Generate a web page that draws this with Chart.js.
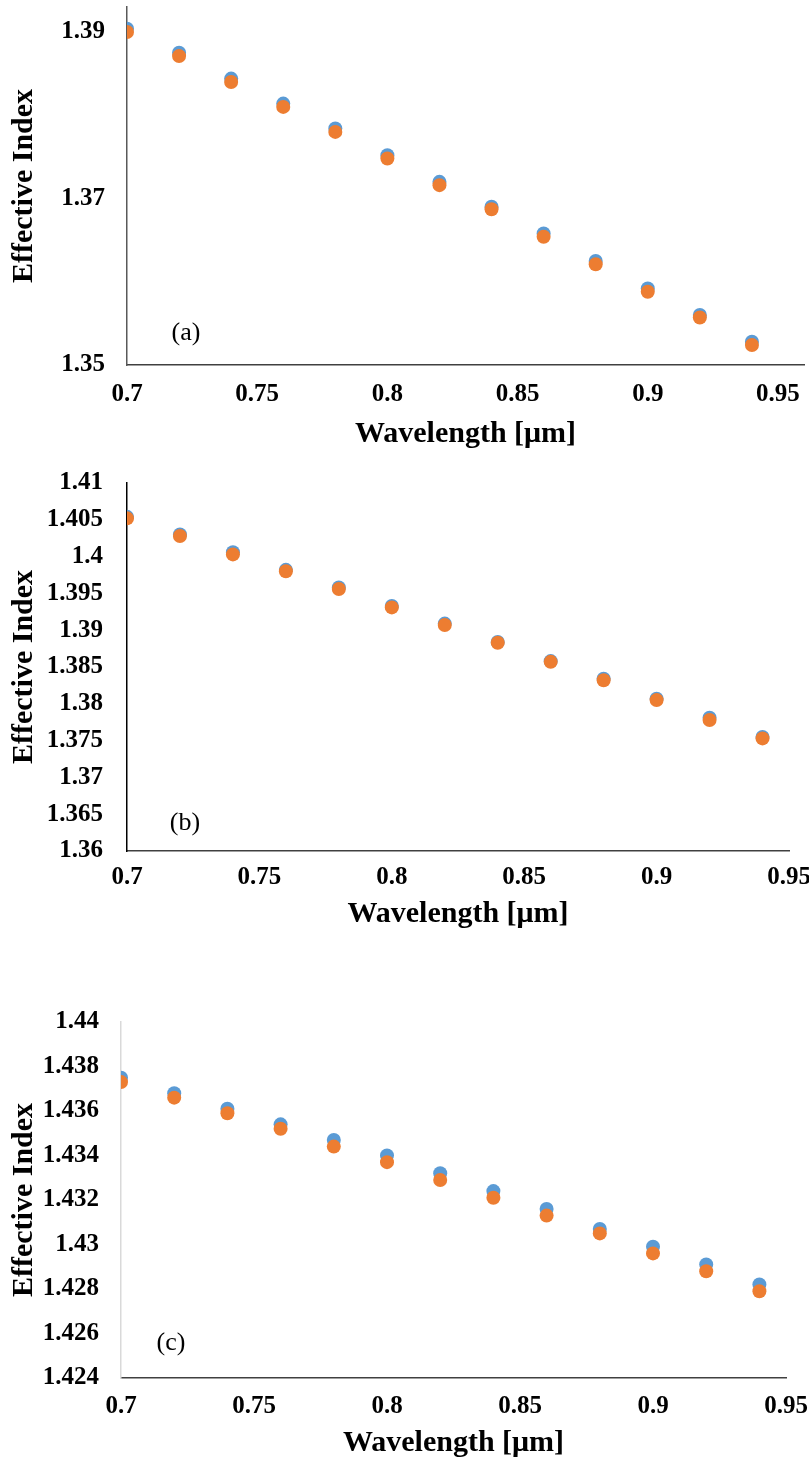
<!DOCTYPE html>
<html>
<head>
<meta charset="utf-8">
<script src="https://cdn.jsdelivr.net/npm/chart.js@4/dist/chart.umd.min.js"></script>
<style>
  html, body { margin: 0; padding: 0; background: #fff; overflow: hidden; }
  #page { position: relative; width: 809px; height: 1463px; overflow: hidden; }
  .panel { position: absolute; left: 0; }
</style>
</head>
<body>
<div id="page">
  <canvas id="chartA" class="panel"></canvas>
  <canvas id="chartB" class="panel"></canvas>
  <canvas id="chartC" class="panel"></canvas>
</div>
<script>
// wavelength samples [um], shared by all three panels
const wavelengths = [0.70, 0.72, 0.74, 0.76, 0.78, 0.80, 0.82, 0.84, 0.86, 0.88, 0.90, 0.92, 0.94];

// panel (a)
const blueA   = [1.3904, 1.3875, 1.3844, 1.3814, 1.3784, 1.3752, 1.3720, 1.3690, 1.3658, 1.3625, 1.3592, 1.3560, 1.3528];
const orangeA = [1.3900, 1.3871, 1.3840, 1.3810, 1.3780, 1.3748, 1.3716, 1.3687, 1.3654, 1.3621, 1.3588, 1.3557, 1.3524];
// panel (b)
const blueB   = [1.4054, 1.4030, 1.4006, 1.3982, 1.3958, 1.3933, 1.3909, 1.3884, 1.3858, 1.3834, 1.3807, 1.3781, 1.3755];
const orangeB = [1.4052, 1.4028, 1.4003, 1.3980, 1.3956, 1.3931, 1.3907, 1.3883, 1.3857, 1.3832, 1.3805, 1.3778, 1.3753];
// panel (c)
const blueC   = [1.4375, 1.4368, 1.4361, 1.4354, 1.4347, 1.4340, 1.4332, 1.4324, 1.4316, 1.4307, 1.4299, 1.4291, 1.4282];
const orangeC = [1.4373, 1.4366, 1.4359, 1.4352, 1.4344, 1.4337, 1.4329, 1.4321, 1.4313, 1.4305, 1.4296, 1.4288, 1.4279];

// tick labels
const xTicks  = [0.7, 0.75, 0.8, 0.85, 0.9, 0.95];
const yTicksA = [1.35, 1.37, 1.39];
const yTicksB = [1.36, 1.365, 1.37, 1.375, 1.38, 1.385, 1.39, 1.395, 1.4, 1.405, 1.41];
const yTicksC = [1.424, 1.426, 1.428, 1.43, 1.432, 1.434, 1.436, 1.438, 1.44];

const panelLabels = ['(a)', '(b)', '(c)'];
const xTitle = 'Wavelength [\u03bcm]';
const yTitle = 'Effective Index';

const BLUE = '#5B9BD5';
const ORANGE = '#ED7D31';
const SERIF = '"Liberation Serif", "Times New Roman", serif';
const CANVAS_W = 840;
const PAD_TOP = 45; // larger than the y scale's own label padding, so it decides the plot top

// draws the (a)/(b)/(c) tag inside the plot
const panelTag = {
  id: 'panelTag',
  afterDraw(chart, args, opts) {
    const ctx = chart.ctx;
    ctx.save();
    ctx.font = '26px ' + SERIF;
    ctx.fillStyle = '#000';
    ctx.textAlign = 'center';
    ctx.textBaseline = 'middle';
    ctx.fillText(opts.text, opts.x, opts.y);
    ctx.restore();
  }
};

function makePanel(id, p) {
  const canvas = document.getElementById(id);
  const top = p.plotTop - PAD_TOP;
  canvas.width = CANVAS_W;
  canvas.height = p.axisBottom - top;
  canvas.style.top = top + 'px';

  return new Chart(canvas, {
    type: 'scatter',
    data: {
      datasets: [
        {
          label: 'orange',
          data: wavelengths.map((x, i) => ({ x: x, y: p.orange[i] })),
          backgroundColor: ORANGE,
          order: 0
        },
        {
          label: 'blue',
          data: wavelengths.map((x, i) => ({ x: x, y: p.blue[i] })),
          backgroundColor: BLUE,
          order: 1
        }
      ]
    },
    options: {
      responsive: false,
      animation: false,
      events: [],
      layout: { padding: { top: PAD_TOP, left: 0, right: CANVAS_W - p.right, bottom: 0 } },
      elements: { point: { radius: 7, borderWidth: 0, hoverRadius: 7 } },
      plugins: {
        legend: { display: false },
        tooltip: { enabled: false },
        panelTag: { text: p.tag, x: p.tagX, y: p.tagY - top }
      },
      scales: {
        x: {
          type: 'linear',
          min: 0.7,
          max: p.xMax,
          afterBuildTicks: axis => { axis.ticks = xTicks.map(v => ({ value: v })); },
          afterFit: axis => { axis.height = p.axisBottom - p.plotBottom; },
          grid: { display: false, drawTicks: false },
          border: { display: true, color: p.xAxisColor, width: 1.5 },
          ticks: {
            padding: p.xTickPad,
            color: '#000',
            font: { family: SERIF, size: 25, weight: 'bold' },
            maxRotation: 0,
            callback: v => String(+v.toFixed(3))
          },
          title: {
            display: true,
            text: xTitle,
            color: '#000',
            padding: 0,
            font: { family: SERIF, size: 30, weight: 'bold' }
          }
        },
        y: {
          type: 'linear',
          min: p.yMin,
          max: p.yMax,
          afterBuildTicks: axis => { axis.ticks = p.yTicks.map(v => ({ value: v })); },
          afterFit: axis => { axis.width = p.left; },
          grid: { display: false, drawTicks: false },
          border: { display: true, color: p.yAxisColor, width: 1.5 },
          ticks: {
            padding: p.yTickPad,
            color: '#000',
            font: { family: SERIF, size: 25, weight: 'bold' },
            callback: v => String(+v.toFixed(4))
          },
          title: {
            display: true,
            text: yTitle,
            color: '#000',
            padding: { top: 6, bottom: 0 },
            font: { family: SERIF, size: 30, weight: 'bold' }
          }
        }
      }
    },
    plugins: [panelTag]
  });
}

makePanel('chartA', {
  plotTop: 7, plotBottom: 365, axisBottom: 452, left: 127, right: 804,
  xMax: 0.96, yMin: 1.35, yMax: 1.393, yTicks: yTicksA,
  blue: blueA, orange: orangeA,
  xTickPad: 15, yTickPad: 22,
  xAxisColor: '#404040', yAxisColor: '#595959',
  tag: panelLabels[0], tagX: 186, tagY: 333
});

makePanel('chartB', {
  plotTop: 483, plotBottom: 851, axisBottom: 932, left: 127, right: 789,
  xMax: 0.95, yMin: 1.36, yMax: 1.41, yTicks: yTicksB,
  blue: blueB, orange: orangeB,
  xTickPad: 12, yTickPad: 24,
  xAxisColor: '#404040', yAxisColor: '#000000',
  tag: panelLabels[1], tagX: 185, tagY: 823
});

makePanel('chartC', {
  plotTop: 1022, plotBottom: 1378, axisBottom: 1461, left: 121, right: 786,
  xMax: 0.95, yMin: 1.424, yMax: 1.44, yTicks: yTicksC,
  blue: blueC, orange: orangeC,
  xTickPad: 14, yTickPad: 22,
  xAxisColor: '#404040', yAxisColor: '#D9D9D9',
  tag: panelLabels[2], tagX: 171, tagY: 1343
});
</script>
</body>
</html>
